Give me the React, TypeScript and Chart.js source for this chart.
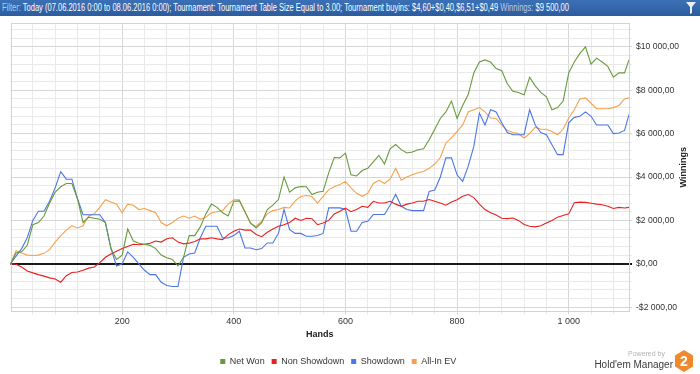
import React, { useEffect, useLayoutEffect, useRef } from 'react';
import { Chart, registerables } from 'chart.js';

Chart.register(...registerables);

const hands = [
  0, 10, 20, 30, 40, 50, 60, 70, 80, 90, 100, 110, 120, 130, 140, 150, 160, 170, 180, 190,
  200, 210, 220, 230, 240, 250, 260, 270, 280, 290, 300, 310, 320, 330, 340, 350, 360, 370, 380, 390,
  400, 410, 420, 430, 440, 450, 460, 470, 480, 490, 500, 510, 520, 530, 540, 550, 560, 570, 580, 590,
  600, 610, 620, 630, 640, 650, 660, 670, 680, 690, 700, 710, 720, 730, 740, 750, 760, 770, 780, 790,
  800, 810, 820, 830, 840, 850, 860, 870, 880, 890, 900, 910, 920, 930, 940, 950, 960, 970, 980, 990,
  1000, 1010, 1020, 1030, 1040, 1050, 1060, 1070, 1080, 1090, 1100, 1108,
];

const netWon = [
  0, 500, 550, 850, 1800, 1900, 2200, 2800, 3300, 3550, 3700, 3700, 3000, 1900, 2150, 2100, 2050, 1900, 700, 200,
  400, 1600, 1050, 950, 900, 850, 700, 400, 280, 200, -100, 300, 1300, 1300, 1700, 2300, 2750, 2600, 2350, 2200,
  2880, 2900, 2400, 1880, 1650, 1900, 2500, 2700, 2960, 4000, 3300, 3500, 3560, 3550, 3190, 3300, 3340, 4190, 4900, 4880,
  5100, 4100, 4050, 4300, 4400, 4700, 5000, 4600, 5300, 5500, 5260, 5110, 5150, 5260, 5300, 5720, 6200, 6700, 7000, 7500,
  6700, 7300, 7800, 8800, 9300, 9400, 9300, 9000, 8900, 8300, 7950, 7900, 7790, 8600, 8200, 7900, 7700, 7100, 7200, 7500,
  8800, 9300, 9700, 10000, 9200, 9480, 9300, 9100, 8600, 8800, 8800, 9400,
];

const nonShowdown = [
  0, -20, -150, -330, -420, -500, -570, -650, -700, -850, -550, -400, -380, -300, -200, -150, 50, 300, 450, 580,
  700, 800, 900, 880, 900, 950, 1050, 1000, 1150, 1200, 1000, 920, 950, 1030, 1150, 1150, 1200, 1150, 1115, 1345,
  1500, 1600, 1550, 1550, 1350, 1250, 1450, 1600, 1730, 1800, 1900, 2100, 2000, 2100, 2080, 1800, 1880, 2000, 2300, 2420,
  2570, 2400, 2500, 2650, 2600, 2880, 2800, 2800, 2880, 2750, 2650, 2750, 2800, 2880, 2880, 2960, 2880, 2800, 2700, 2850,
  2950, 3110, 3190, 3050, 2750, 2500, 2350, 2250, 2100, 2080, 2110, 2000, 1810, 1730, 1700, 1750, 1880, 2000, 2150, 2230,
  2300, 2810, 2840, 2830, 2790, 2750, 2720, 2650, 2550, 2600, 2570, 2600,
];

const showdown = [
  0, 350, 700, 1200, 2000, 2420, 2420, 2880, 3500, 4250, 3900, 3900, 3000, 2260, 2260, 2260, 2260, 1900, 700, -100,
  0, 550, 300, 0, -300, -500, -500, -850, -1000, -1050, -1050, 300, 450, 500, 1200, 1730, 1730, 1730, 1190, 1190,
  1300, 1500, 730, 730, 650, 700, 960, 960, 1400, 2500, 1575, 1400, 1400, 1270, 1270, 1300, 1400, 2575, 2575, 2575,
  2500, 1500, 1500, 1900, 1960, 2270, 2270, 2270, 2700, 3200, 2650, 2500, 2450, 2450, 2450, 3330, 3400, 4000, 4880, 4880,
  4100, 3800, 4500, 5410, 6950, 6400, 7100, 7000, 6500, 6050, 5950, 5950, 5950, 7100, 6400, 6050, 5950, 5490, 5030, 5030,
  6500, 6750, 6800, 7000, 6800, 6400, 6400, 6400, 6000, 6030, 6150, 6880,
];

const allInEV = [
  0, 600, 500, 400, 380, 400, 480, 650, 1000, 1300, 1550, 1750, 1650, 1750, 2200, 2300, 2600, 2950, 2850, 2750,
  2350, 2750, 2700, 2500, 2550, 2450, 2350, 1900, 1750, 1900, 2100, 2200, 2100, 2200, 2050, 2150, 2350, 2400, 2450, 2750,
  2950, 2950, 2400, 1850, 1730, 1950, 2300, 2450, 2500, 2600, 2570, 2900, 3100, 3150, 3100, 2800, 3110, 3420, 3550, 3650,
  3800, 3500, 3250, 3110, 3250, 3700, 3850, 3700, 3900, 4400, 3850, 4000, 4100, 4200, 4250, 4400, 4600, 4900, 5570, 5800,
  6100, 6400, 7000, 7100, 7200, 7000, 6720, 6700, 6400, 6150, 6050, 6000, 5800, 6000, 6300, 6200, 6200, 6100, 5950, 6200,
  6720, 7100, 7600, 7650, 7400, 7150, 7150, 7150, 7200, 7300, 7600, 7650,
];

const seriesNames = ['Net Won', 'Non Showdown', 'Showdown', 'All-In EV'];
const seriesColors = ['#679a3c', '#e8201e', '#4b76e6', '#f5a14e'];

const xTickValues = [
  40, 80, 120, 160, 200, 240, 280, 320, 360, 400, 440, 480, 520, 560, 600, 640, 680, 720, 760, 800,
  840, 880, 920, 960, 1000, 1040, 1080,
];
const xLabelValues = [200, 400, 600, 800, 1000];
const yTickValues = [
  -2000, -1600, -1200, -800, -400, 0, 400, 800, 1200, 1600, 2000, 2400, 2800, 3200, 3600, 4000, 4400,
  4800, 5200, 5600, 6000, 6400, 6800, 7200, 7600, 8000, 8400, 8800, 9200, 9600, 10000, 10400, 10800,
];
const yLabelValues = [-2000, 0, 2000, 4000, 6000, 8000, 10000];

const headerParts = [
  { text: 'Filter: ', dim: true },
  { text: 'Today (07.06.2016 0:00 to 08.06.2016 0:00); Tournament: Tournament Table Size Equal to 3.00; Tournament buyins: $4,60+$0,40,$6,51+$0,49 ', dim: false },
  { text: 'Winnings: ', dim: true },
  { text: '$9 500,00', dim: false },
];

const FONT = '"Liberation Sans", Arial, sans-serif';

function groupThousands(n: number): string {
  const s = String(Math.abs(Math.round(n)));
  return s.replace(/\B(?=(\d{3})+(?!\d))/g, ' ');
}
function money(n: number): string {
  return (n < 0 ? '-' : '') + '$' + groupThousands(n) + ',00';
}

export default function App() {
  const canvasRef = useRef<HTMLCanvasElement>(null);
  const headerTextRef = useRef<HTMLSpanElement>(null);

  useLayoutEffect(() => {
    const prev = document.body.style.margin;
    document.body.style.margin = '0';
    const el = headerTextRef.current;
    if (el) {
      const w = el.getBoundingClientRect().width;
      if (w > 0) el.style.transform = `scaleX(${567 / w})`;
    }
    return () => {
      document.body.style.margin = prev;
    };
  }, []);

  useEffect(() => {
    if (!canvasRef.current) return;
    Chart.defaults.font.family = FONT;

    const borderPlugin = {
      id: 'plotBorder',
      beforeDatasetsDraw(chart: any) {
        const { ctx, chartArea } = chart;
        ctx.save();
        ctx.strokeStyle = '#d3d3d3';
        ctx.lineWidth = 1;
        ctx.strokeRect(
          Math.round(chartArea.left) + 0.5,
          Math.round(chartArea.top) + 0.5,
          Math.round(chartArea.right - chartArea.left) - 1,
          Math.round(chartArea.bottom - chartArea.top) - 1
        );
        ctx.restore();
      },
    };

    const winningsTitle = {
      id: 'winningsTitle',
      afterDraw(chart: any) {
        const { ctx, chartArea } = chart;
        ctx.save();
        ctx.translate(684, (chartArea.top + chartArea.bottom) / 2);
        ctx.rotate(-Math.PI / 2);
        ctx.font = `bold 9px ${FONT}`;
        ctx.fillStyle = '#222';
        ctx.textAlign = 'center';
        ctx.textBaseline = 'middle';
        ctx.fillText('Winnings', 0, 0);
        ctx.restore();
      },
    };

    const legendShift = {
      id: 'legendShift',
      afterLayout(chart: any) {
        if (chart.legend) {
          chart.legend.left -= 17;
          chart.legend.right -= 17;
          chart.legend.top += 2;
          chart.legend.bottom += 2;
        }
      },
    };

    const chart = new Chart(canvasRef.current, {
      type: 'line',
      data: {
        datasets: [netWon, nonShowdown, showdown, allInEV].map((series, i) => ({
          label: seriesNames[i],
          data: hands.map((h, j) => ({ x: h, y: series[j] })),
          borderColor: seriesColors[i],
          backgroundColor: seriesColors[i],
          borderWidth: 1.1,
          pointRadius: 0,
          pointHoverRadius: 0,
          tension: 0,
          fill: false,
        })),
      },
      options: {
        animation: false,
        responsive: false,
        maintainAspectRatio: false,
        layout: { padding: { left: 10.5, top: 23, right: 0, bottom: 0 } },
        plugins: {
          legend: {
            position: 'bottom',
            labels: {
              boxWidth: 5,
              boxHeight: 5,
              padding: 7,
              color: '#333',
              font: { size: 9, family: FONT },
              generateLabels(chart: any) {
                const items = Chart.defaults.plugins.legend.labels.generateLabels(chart);
                return items.map((it: any) => ({ ...it, lineWidth: 0, strokeStyle: 'transparent' }));
              },
            },
          },
          tooltip: { enabled: false },
        },
        scales: {
          x: {
            type: 'linear',
            min: 0,
            max: 1108,
            afterBuildTicks(scale: any) {
              scale.ticks = xTickValues.map((v) => ({ value: v }));
            },
            afterFit(scale: any) {
              scale.height = 36.5;
            },
            ticks: {
              autoSkip: false,
              maxRotation: 0,
              padding: 1.5,
              color: '#333',
              font: { size: 9 },
              callback: (v: any) => (xLabelValues.includes(Number(v)) ? groupThousands(Number(v)) : ''),
            },
            grid: {
              tickLength: 3,
              color: (ctx: any) => (ctx.tick && Number(ctx.tick.value) % 200 === 0 ? '#d6d6d6' : '#e9e9e9'),
            },
            border: { display: false },
            title: {
              display: true,
              text: 'Hands',
              color: '#222',
              font: { size: 9, weight: 'bold' },
              padding: { top: 0, bottom: 8.5 },
            },
          },
          y: {
            type: 'linear',
            position: 'right',
            min: -2200,
            max: 11100,
            afterBuildTicks(scale: any) {
              scale.ticks = yTickValues.map((v) => ({ value: v }));
            },
            afterFit(scale: any) {
              scale.width = 71;
            },
            ticks: {
              autoSkip: false,
              padding: 4,
              color: '#333',
              font: { size: 8.6 },
              callback: (v: any) => (yLabelValues.includes(Number(v)) ? money(Number(v)) : ''),
            },
            grid: {
              tickLength: 3,
              color: (ctx: any) => {
                const v = ctx.tick ? Number(ctx.tick.value) : NaN;
                if (v === 0) return '#1a1a1a';
                return v % 2000 === 0 ? '#d6d6d6' : '#e9e9e9';
              },
              lineWidth: (ctx: any) => (ctx.tick && Number(ctx.tick.value) === 0 ? 2 : 1),
            },
            border: { display: false },
          },
        },
      } as any,
      plugins: [borderPlugin, winningsTitle, legendShift] as any,
    });
    return () => chart.destroy();
  }, []);

  return (
    <div style={{ position: 'absolute', left: 0, top: 0, width: 700, height: 374, overflow: 'hidden', background: '#fff' }}>
      <canvas ref={canvasRef} width={700} height={374} style={{ position: 'absolute', left: 0, top: 0, width: 700, height: 374 }} />
      <div
        style={{
          position: 'absolute',
          left: 0,
          top: 0,
          width: 700,
          height: 16,
          background: 'linear-gradient(#3c70b6, #2c5c9f)',
          overflow: 'hidden',
        }}
      >
        <span
          ref={headerTextRef}
          style={{
            position: 'absolute',
            left: 2,
            top: 0,
            lineHeight: '16px',
            fontSize: 10,
            fontFamily: FONT,
            color: '#fff',
            whiteSpace: 'nowrap',
            display: 'inline-block',
            transformOrigin: '0 50%',
          }}
        >
          {headerParts.map((p, i) => (
            <span key={i} style={{ color: p.dim ? '#b9cbe6' : '#ffffff' }}>
              {p.text}
            </span>
          ))}
        </span>
        <svg width={10} height={12} style={{ position: 'absolute', left: 686, top: 2 }} viewBox="0 0 10 12">
          <polygon points="0,0 10,0 6,5 6,11 4,12 4,5" fill="#e9eef7" />
        </svg>
      </div>
      <div style={{ position: 'absolute', left: 600, top: 349, width: 65, textAlign: 'right', fontSize: 7, color: '#b3b3b3', fontFamily: FONT, lineHeight: '9px' }}>
        Powered by
      </div>
      <div style={{ position: 'absolute', left: 560, top: 359, width: 113, textAlign: 'right', fontSize: 10, color: '#3a3a3a', fontFamily: FONT, lineHeight: '12px', whiteSpace: 'nowrap' }}>
        Hold'em Manager
      </div>
      <svg width={18} height={22} style={{ position: 'absolute', left: 675, top: 350 }} viewBox="0 0 18 22">
        <polygon points="9,0 18,5.5 18,16.5 9,22 0,16.5 0,5.5" fill="#f0892a" />
        <text x={9} y={16} textAnchor="middle" fontSize={14} fontWeight="bold" fill="#fff" fontFamily={FONT}>
          2
        </text>
      </svg>
    </div>
  );
}
